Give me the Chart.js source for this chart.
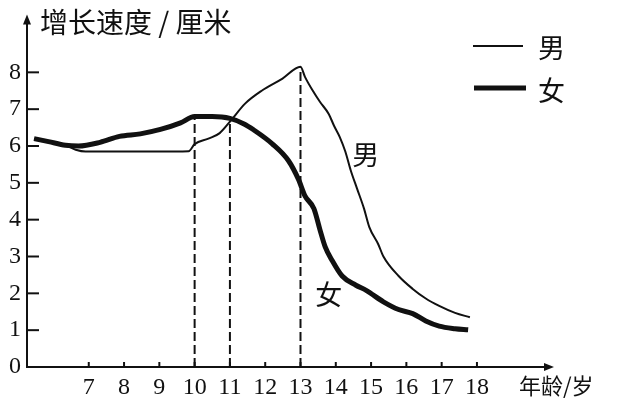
<!DOCTYPE html>
<html>
<head>
<meta charset="utf-8">
<title>增长速度</title>
<script src="https://cdn.jsdelivr.net/npm/chart.js@4.4.0/dist/chart.umd.min.js"></script>
<style>
    html, body { margin: 0; padding: 0; background: #fff; }
    #wrap { width: 617px; height: 405px; position: relative; }
</style>
</head>
<body>
<div id="wrap"><canvas id="growthChart"></canvas></div>
<script>
// Data (age in years, growth in cm per year)
const boysAges = [5.45, 5.86, 6.34, 6.63, 6.91, 7.87, 8.93, 9.83, 10.0, 10.39, 10.71, 11.0, 11.43, 11.9, 12.49, 13.0,
    13.13, 13.38, 13.55, 13.8, 13.95, 14.11, 14.27, 14.42, 14.6, 14.8, 14.95, 15.2, 15.35, 15.78, 16.18, 16.55, 16.93, 17.38, 17.8];
const boysGrowth = [6.2, 6.12, 6.02, 5.9, 5.85, 5.85, 5.85, 5.86, 6.05, 6.2, 6.35, 6.66, 7.15, 7.5, 7.83, 8.15,
    7.87, 7.45, 7.2, 6.87, 6.55, 6.25, 5.85, 5.35, 4.85, 4.3, 3.8, 3.34, 3.0, 2.47, 2.12, 1.86, 1.66, 1.47, 1.35];

const girlsAges = [5.45, 5.86, 6.34, 6.71, 7.32, 7.87, 8.46, 9.03, 9.6, 10.0, 10.5, 11.0, 11.4, 11.67, 12.2, 12.66,
    12.94, 13.13, 13.38, 13.55, 13.7, 13.88, 14.18, 14.57, 14.86, 15.35, 15.78, 16.18, 16.55, 16.93, 17.38, 17.75];
const girlsGrowth = [6.2, 6.12, 6.02, 6.0, 6.1, 6.26, 6.33, 6.45, 6.63, 6.8, 6.8, 6.75, 6.6, 6.44, 6.06, 5.6,
    5.1, 4.64, 4.3, 3.73, 3.26, 2.92, 2.47, 2.22, 2.08, 1.77, 1.56, 1.45, 1.25, 1.11, 1.04, 1.01];

// Dashed drop lines marking the peaks
const peakAges = [10, 11, 13];
const peakTops = [6.8, 6.8, 8.15];

// Tick labels
const xTicks = [7, 8, 9, 10, 11, 12, 13, 14, 15, 16, 17, 18];
const yTicks = [0, 1, 2, 3, 4, 5, 6, 7, 8];

const INK = '#111';
const SERIF = "'Liberation Serif', 'Times New Roman', 'DejaVu Serif', serif";
const CJK = "'Noto Sans CJK SC', sans-serif";

function toPoints(xs, ys) {
    return xs.map((x, i) => ({ x: x, y: ys[i] }));
}

// Build one dataset per dashed line
const dropSets = peakAges.map((age, i) => ({
    label: 'drop' + age,
    data: [{ x: age, y: 0 }, { x: age, y: peakTops[i] }],
    borderColor: INK,
    borderWidth: 2,
    borderDash: [9, 4],
    pointRadius: 0,
    fill: false
}));

// Axis decorations, titles, legend and curve labels
const decorPlugin = {
    id: 'decor',
    afterDraw(chart) {
        const ctx = chart.ctx;
        const area = chart.chartArea;
        const xs = chart.scales.x;
        const ys = chart.scales.y;
        ctx.save();
        ctx.strokeStyle = INK;
        ctx.fillStyle = INK;
        ctx.lineWidth = 2;

        // inward ticks on the y axis
        yTicks.forEach(v => {
            if (v === 0) return;
            const py = ys.getPixelForValue(v);
            ctx.beginPath();
            ctx.moveTo(area.left, py);
            ctx.lineTo(area.left + 12, py);
            ctx.stroke();
        });

        // small upward ticks on the x axis
        xTicks.forEach(v => {
            const px = xs.getPixelForValue(v);
            ctx.beginPath();
            ctx.moveTo(px, area.bottom);
            ctx.lineTo(px, area.bottom - 5);
            ctx.stroke();
        });

        // arrow heads
        ctx.beginPath();
        ctx.moveTo(area.left, area.top - 6);
        ctx.lineTo(area.left - 4, area.top + 4);
        ctx.lineTo(area.left + 4, area.top + 4);
        ctx.closePath();
        ctx.fill();
        ctx.beginPath();
        ctx.moveTo(area.right + 4, area.bottom);
        ctx.lineTo(area.right - 6, area.bottom - 4);
        ctx.lineTo(area.right - 6, area.bottom + 4);
        ctx.closePath();
        ctx.fill();

        // axis titles
        ctx.textBaseline = 'middle';
        ctx.textAlign = 'left';
        ctx.font = '28px ' + CJK;
        ctx.fillText('增长速度 / 厘米', area.left + 13, 22);
        ctx.font = '22px ' + CJK;
        ctx.fillText('年龄/岁', 519, 386);

        // legend
        ctx.lineWidth = 2;
        ctx.beginPath();
        ctx.moveTo(473, 46);
        ctx.lineTo(523, 46);
        ctx.stroke();
        ctx.lineWidth = 5;
        ctx.beginPath();
        ctx.moveTo(474, 88);
        ctx.lineTo(526, 88);
        ctx.stroke();
        ctx.font = '27px ' + CJK;
        ctx.fillText('男', 538, 48);
        ctx.fillText('女', 538, 91);

        // labels next to the curves
        ctx.textAlign = 'center';
        ctx.fillText('男', xs.getPixelForValue(14.85), ys.getPixelForValue(5.75));
        ctx.fillText('女', xs.getPixelForValue(13.8), ys.getPixelForValue(1.95));

        // touch the serif faces (invisible) so they are resolved
        ctx.textAlign = 'left';
        ctx.fillStyle = 'rgba(0,0,0,0)';
        ['"Liberation Serif"', '"Times New Roman"', '"DejaVu Serif"', 'serif', 'sans-serif'].forEach((f, i) => {
            ctx.font = '14px ' + f;
            ctx.measureText('iiiiWWWW0123');
            ctx.fillText('0123', 60, 200 + i * 18);
        });
        ctx.restore();
    }
};

document.addEventListener('DOMContentLoaded', function() {
    const ctx = document.getElementById('growthChart').getContext('2d');

    new Chart(ctx, {
        type: 'line',
        data: {
            datasets: [
                {
                    label: '男',
                    data: toPoints(boysAges, boysGrowth),
                    borderColor: INK,
                    borderWidth: 2,
                    pointRadius: 0,
                    cubicInterpolationMode: 'monotone',
                    fill: false
                },
                {
                    label: '女',
                    data: toPoints(girlsAges, girlsGrowth),
                    borderColor: INK,
                    borderWidth: 5,
                    pointRadius: 0,
                    cubicInterpolationMode: 'monotone',
                    fill: false
                }
            ].concat(dropSets)
        },
        options: {
            responsive: true,
            maintainAspectRatio: false,
            animation: false,
            layout: { padding: { top: 15, right: 67, left: 0, bottom: 0 } },
            plugins: {
                legend: { display: false },
                tooltip: { enabled: false }
            },
            scales: {
                x: {
                    type: 'linear',
                    min: 5.25,
                    max: 20.07,
                    afterFit: function(scale) { scale.height = 38; },
                    afterBuildTicks: function(scale) {
                        scale.ticks = xTicks.map(v => ({ value: v }));
                    },
                    grid: { display: false, drawTicks: false },
                    border: { display: true, color: INK, width: 2 },
                    ticks: {
                        color: INK,
                        padding: 6,
                        autoSkip: false,
                        maxRotation: 0,
                        font: { family: SERIF, size: 24 }
                    }
                },
                y: {
                    min: 0,
                    max: 9.41,
                    afterFit: function(scale) { scale.width = 27; },
                    afterBuildTicks: function(scale) {
                        scale.ticks = yTicks.map(v => ({ value: v }));
                    },
                    grid: { display: false, drawTicks: false },
                    border: { display: true, color: INK, width: 2 },
                    ticks: {
                        color: INK,
                        padding: 6,
                        font: { family: SERIF, size: 24 }
                    }
                }
            }
        },
        plugins: [decorPlugin]
    });
});
</script>
</body>
</html>
